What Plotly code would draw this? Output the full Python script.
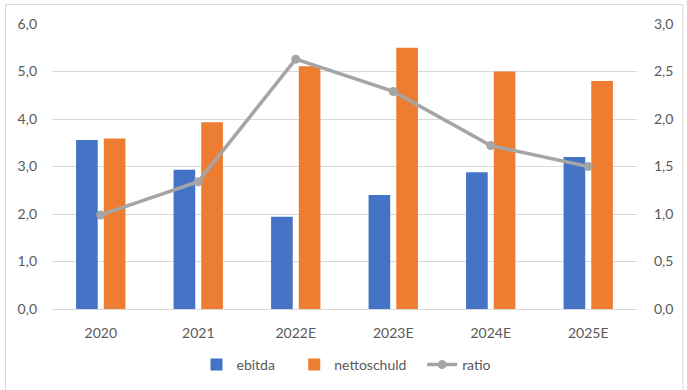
import plotly.graph_objects as go

categories = ["2020", "2021", "2022E", "2023E", "2024E", "2025E"]
ebitda = [3.56, 2.93, 1.94, 2.40, 2.88, 3.20]
nettoschuld = [3.59, 3.93, 5.11, 5.50, 5.00, 4.80]
ratio = [0.99, 1.34, 2.63, 2.29, 1.72, 1.50]

series_names = ["ebitda", "nettoschuld", "ratio"]

left_ticks = [0, 1, 2, 3, 4, 5, 6]
right_ticks = [0, 0.5, 1.0, 1.5, 2.0, 2.5, 3.0]

BLUE = "#4472C4"
ORANGE = "#ED7D31"
GRAY = "#A5A5A5"
FONT = "Lato, 'Open Sans', sans-serif"
NB = "\u00a0"

W, H = 687, 390
L, R, T, B = 52, 50, 23.5, 80.7
PW = W - L - R
PH = H - T - B

fig = go.Figure()
fig.add_trace(go.Bar(x=categories, y=ebitda, name=series_names[0] + NB * 4, marker_color=BLUE,
                     width=0.222, offset=-0.253, marker_line_width=0))
fig.add_trace(go.Bar(x=categories, y=nettoschuld, name=series_names[1] + NB * 3, marker_color=ORANGE,
                     width=0.222, offset=0.031, marker_line_width=0))
fig.add_trace(go.Scatter(x=categories, y=ratio, name=series_names[2], yaxis="y2", mode="lines+markers",
                         line=dict(color=GRAY, width=3.5), marker=dict(color=GRAY, size=9)))

fig.update_layout(
    width=W, height=H,
    margin=dict(l=L, r=R, t=T, b=B, autoexpand=False),
    paper_bgcolor="white", plot_bgcolor="white",
    separators=",.",
    font=dict(family=FONT, size=14, color="#595959"),
    barmode="group",
    showlegend=True,
    legend=dict(orientation="h", xref="container", yref="container",
                x=0.5 + 3 / W, xanchor="center", y=1 - 365 / H, yanchor="middle",
                font=dict(size=14, color="#595959"), itemwidth=30, traceorder="normal"),
    xaxis=dict(showgrid=False, showline=True, linecolor="#D9D9D9", linewidth=1,
               ticks="", tickfont=dict(size=14, color="#595959"), ticklabelstandoff=11,
               automargin=False, fixedrange=True),
    yaxis=dict(range=[0, 6], tickvals=left_ticks, tickformat=".1f", showgrid=True,
               gridcolor="#D9D9D9", gridwidth=1, zeroline=False, showline=False,
               automargin=False, fixedrange=True,
               tickfont=dict(size=14, color="#595959"), ticklabelstandoff=14),
    yaxis2=dict(range=[0, 3], tickvals=right_ticks, tickformat=".1f", overlaying="y",
                side="right", showgrid=False, zeroline=False, showline=False,
                automargin=False, fixedrange=True,
                tickfont=dict(size=14, color="#595959"), ticklabelstandoff=16),
    shapes=[dict(type="rect", xref="paper", yref="paper",
                 x0=(5.5 - L) / PW, x1=(683 - L) / PW,
                 y0=-(H + 20 - (H - B)) / PH, y1=1 + (T - 4) / PH,
                 line=dict(color="#D9D9D9", width=1), fillcolor="rgba(0,0,0,0)", layer="below")],
)

fig.write_html("out.html",
               config={"displayModeBar": False},
               post_script="document.body.style.margin='0';document.body.style.overflow='hidden';")
